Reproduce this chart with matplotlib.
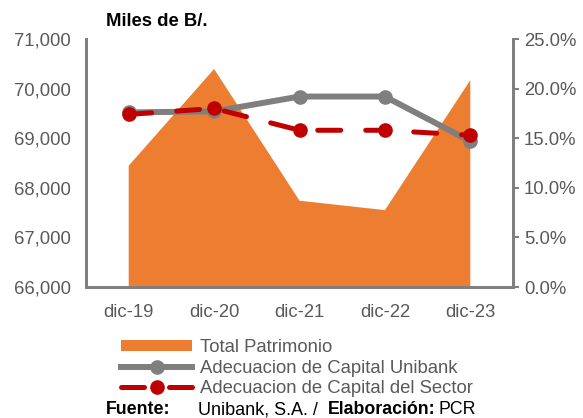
import matplotlib.pyplot as plt
from matplotlib.ticker import FuncFormatter

plt.rcParams['font.family'] = ['Liberation Sans', 'DejaVu Sans']

periods = ["dic-19", "dic-20", "dic-21", "dic-22", "dic-23"]
patrimonio = [68445, 70395, 67740, 67550, 70170]
adecuacion_unibank = [17.6, 17.7, 19.2, 19.2, 14.7]
adecuacion_sector = [17.4, 18.0, 15.8, 15.8, 15.3]

gray = "#7F7F7F"
orange = "#ED7D31"
red = "#C00000"
txt = "#595959"
fs = 13.3

fig = plt.figure(figsize=(5.83, 4.18), dpi=100)
ax = fig.add_axes([86 / 583, 1 - 287 / 418, 427 / 583, 248 / 418])
x = range(len(periods))

ax.fill_between(x, 0, patrimonio, color=orange, linewidth=0, label="Total Patrimonio")
ax.set_ylim(66000, 71000)
ax.set_xlim(-0.5, len(periods) - 0.5)
ax.set_yticks(range(66000, 71001, 1000))
ax.yaxis.set_major_formatter(FuncFormatter(lambda v, p: f"{int(v):,}"))
ax.set_xticks(list(x))
ax.set_xticklabels(periods)

ax2 = ax.twinx()
ax2.plot(x, adecuacion_unibank, color=gray, lw=4.3, marker="o", ms=9.5,
         label="Adecuacion de Capital Unibank")
ax2.plot(x, adecuacion_sector, color=red, lw=3.6, ls=(0, (4.6, 5)), marker="o", ms=9.5,
         dash_capstyle="round", label="Adecuacion de Capital del Sector")
ax2.set_ylim(0, 25)
ax2.set_yticks(range(0, 26, 5))
ax2.yaxis.set_major_formatter(FuncFormatter(lambda v, p: f"{v:.1f}%"))

for a in (ax, ax2):
    a.spines["top"].set_visible(False)
    for s in ("left", "right", "bottom"):
        a.spines[s].set_color(gray)
        a.spines[s].set_linewidth(2)
    a.tick_params(labelsize=fs, labelcolor=txt, colors=gray)
ax.tick_params(axis="both", length=0, pad=11)
ax.tick_params(axis="x", pad=12)
ax2.tick_params(axis="y", length=4, width=1.5, pad=4)

fig.text(106 / 583, 1 - 22 / 418, "Miles de B/.", fontsize=fs, fontweight="bold",
         va="center", ha="left")

h1, l1 = ax.get_legend_handles_labels()
h2, l2 = ax2.get_legend_handles_labels()
fig.legend(h1 + h2, l1 + l2, loc="upper left", bbox_to_anchor=(121 / 583, 1 - 339 / 418),
           frameon=False, fontsize=fs, labelcolor=txt, handlelength=3.85,
           handleheight=0.55, handletextpad=0.43, labelspacing=0.2, borderpad=0,
           borderaxespad=0)

fy = 1 - 410 / 418
fig.text(106 / 583, fy, "Fuente:", fontsize=fs - 0.5, fontweight="bold", va="center")
fig.text(198 / 583, fy, "Unibank, S.A. /", fontsize=fs - 0.3, va="center")
fig.text(328 / 583, fy, "Elaboración:", fontsize=fs - 0.5, fontweight="bold", va="center")
fig.text(439 / 583, fy, "PCR", fontsize=fs - 0.5, va="center")

fig.savefig("out.png", dpi=100)
